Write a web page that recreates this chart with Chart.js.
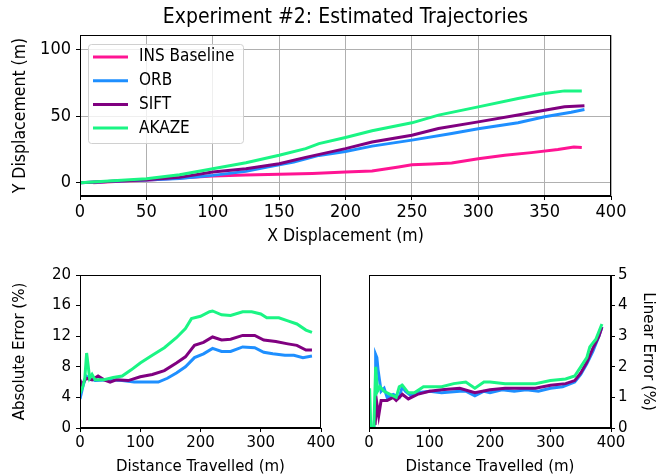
<!DOCTYPE html>
<html>
<head>
<meta charset="utf-8">
<script src="https://cdn.jsdelivr.net/npm/chart.js@4.4.0/dist/chart.umd.min.js"></script>
<style>
  body { margin: 0; background: #fff; }
  #wrap { position: relative; width: 657px; height: 476px; }
  canvas { position: absolute; }
</style>
</head>
<body>
<div id="wrap">
  <canvas id="traj" width="657" height="250" style="left:0;top:0;width:657px;height:250px"></canvas>
  <canvas id="absErr" width="340" height="221" style="left:0;top:255px;width:340px;height:221px"></canvas>
  <canvas id="linErr" width="317" height="221" style="left:340px;top:255px;width:317px;height:221px"></canvas>
</div>
<script>
// ---- trajectories (m) ----
const insX = [10, 30, 50, 75, 100, 125, 150, 175, 200, 220, 240, 250, 265, 280, 300, 320, 340, 360, 372, 378];
const insY = [0, 1, 1.8, 3.5, 5, 5.8, 6.3, 7, 8, 8.8, 11.8, 13.5, 14, 14.8, 18, 20.6, 22.6, 25, 26.8, 26.5];
const orbX = [0, 25, 50, 75, 100, 125, 142, 161, 180, 200, 220, 250, 280, 300, 330, 350, 370, 380];
const orbY = [0, 1, 2, 3.2, 5.5, 8.5, 12, 15.6, 20.5, 23.5, 27.5, 32, 37, 40.5, 45, 49.5, 53, 55];
const siftX = [0, 25, 50, 75, 100, 125, 150, 170, 200, 220, 250, 270, 300, 330, 350, 365, 380];
const siftY = [0, 1, 2.2, 4, 8, 10.5, 14.3, 19, 25.6, 30.6, 35.7, 40.7, 45.7, 50.8, 54.5, 57, 57.8];
const akazeX = [0, 25, 50, 75, 100, 125, 150, 170, 180, 200, 220, 250, 270, 300, 330, 350, 365, 378];
const akazeY = [0, 1.5, 3, 6, 10.5, 15, 20.6, 25.6, 29.4, 34, 39, 45, 50.8, 57, 63.3, 67, 69, 69];

// ---- absolute error (%) vs distance travelled (m) ----
const absOrbD = [0, 5, 10, 15, 25, 50, 70, 90, 110, 130, 145, 160, 175, 190, 205, 220, 235, 250, 270, 290, 305, 320, 340, 355, 370, 385];
const absOrb = [3.8, 5.5, 6.8, 6.5, 6.2, 6.3, 6.2, 6.0, 6.0, 6.0, 6.5, 7.2, 8.0, 9.2, 9.7, 10.4, 10.0, 10.0, 10.6, 10.5, 9.9, 9.7, 9.5, 9.5, 9.2, 9.4];
const absSiftD = [0, 3, 10, 20, 30, 40, 50, 60, 80, 100, 120, 140, 160, 175, 190, 205, 220, 235, 250, 270, 290, 305, 325, 345, 360, 375, 385];
const absSift = [6.3, 5.6, 6.5, 6.3, 6.8, 6.3, 6.0, 6.3, 6.2, 6.7, 7.0, 7.5, 8.5, 9.3, 10.8, 11.2, 11.9, 11.5, 11.6, 12.1, 12.1, 11.5, 11.3, 11.0, 10.8, 10.2, 10.2];
const absAkazeD = [0, 5, 8, 11, 13, 16, 20, 25, 40, 55, 70, 85, 100, 120, 140, 160, 175, 185, 200, 215, 220, 235, 250, 270, 285, 300, 310, 330, 345, 360, 375, 385];
const absAkaze = [4.5, 5.5, 6.5, 9.8, 8.5, 6.5, 7.0, 6.3, 6.3, 6.6, 6.8, 7.6, 8.5, 9.5, 10.5, 11.8, 13.0, 14.3, 14.6, 15.2, 15.3, 14.8, 14.7, 15.2, 15.2, 14.9, 14.4, 14.4, 14.0, 13.6, 12.8, 12.5];

// ---- linear error (%) vs distance travelled (m) ----
const linOrbD = [8, 10, 11, 13, 15, 20, 25, 30, 40, 50, 55, 60, 70, 80, 100, 120, 150, 160, 175, 190, 200, 220, 240, 260, 280, 300, 320, 340, 350, 360, 370, 380, 385];
const linOrb = [0, 0.5, 2.4, 2.3, 1.9, 1.2, 1.3, 1.0, 1.1, 1.0, 1.35, 1.2, 1.05, 1.15, 1.2, 1.15, 1.2, 1.2, 1.05, 1.2, 1.15, 1.25, 1.2, 1.25, 1.2, 1.3, 1.35, 1.5, 1.75, 2.1, 2.5, 3.0, 3.3];
const linSiftD = [10, 13, 16, 20, 30, 40, 45, 55, 65, 80, 100, 120, 150, 175, 200, 225, 250, 275, 300, 325, 340, 350, 360, 370, 380, 385];
const linSift = [0.1, 0.8, 0.4, 0.9, 0.9, 1.0, 0.9, 1.1, 0.95, 1.1, 1.2, 1.25, 1.3, 1.15, 1.25, 1.3, 1.3, 1.3, 1.4, 1.45, 1.55, 1.8, 2.15, 2.6, 3.0, 3.3];
const linAkazeD = [0, 1, 3, 8, 11, 14, 18, 25, 35, 45, 50, 55, 65, 75, 90, 100, 120, 140, 160, 175, 190, 200, 225, 250, 275, 300, 325, 340, 350, 360, 365, 375, 385];
const linAkaze = [0, 1.3, 0, 0, 2.0, 1.2, 1.35, 1.2, 1.1, 1.0, 1.35, 1.4, 1.15, 1.15, 1.35, 1.35, 1.35, 1.45, 1.5, 1.3, 1.5, 1.5, 1.45, 1.45, 1.45, 1.55, 1.6, 1.7, 2.0, 2.3, 2.65, 2.9, 3.4];

const seriesNames = ['INS Baseline', 'ORB', 'SIFT', 'AKAZE'];
const colors = {
    ins: '#ff1493',
    orb: '#1e8fff',
    sift: '#800080',
    akaze: '#1af584',
};

const FONT = 'DejaVu Sans, sans-serif';
// the top panel's lettering is narrow and tall in the reference
const NARROW = '"DejaVu Sans Condensed", "DejaVu Sans", sans-serif';
const zip = (xs, ys) => xs.map((x, i) => ({ x, y: ys[i] }));

const line = (label, xs, ys, color, order) => ({
    label,
    data: zip(xs, ys),
    borderColor: color,
    backgroundColor: color,
    borderWidth: 3,
    pointRadius: 0,
    fill: false,
    order,
});

// draws the matplotlib-style box round the plot area
const frame = {
    id: 'frame',
    afterDatasetsDraw(chart) {
        const { ctx, chartArea: a } = chart;
        ctx.save();
        ctx.strokeStyle = '#000';
        ctx.lineWidth = 1;
        ctx.strokeRect(a.left + 0.5, a.top + 0.5, a.right - a.left - 1, a.bottom - a.top - 1);
        ctx.restore();
    },
};

// title centred over the plot area, like matplotlib's axes title
const panelTitle = {
    id: 'panelTitle',
    afterDraw(chart, args, opts) {
        const { ctx, chartArea: a } = chart;
        ctx.save();
        ctx.font = opts.font;
        ctx.fillStyle = '#000';
        ctx.textAlign = 'center';
        ctx.textBaseline = 'middle';
        ctx.fillText(opts.text, (a.left + a.right) / 2, opts.y);
        ctx.restore();
    },
};

// legend drawn inside the top-left corner of the trajectory plot
const innerLegend = {
    id: 'innerLegend',
    afterDraw(chart) {
        const { ctx, chartArea: a } = chart;
        const x = a.left + 8, y = a.top + 9, w = 155, h = 99;
        ctx.save();
        ctx.fillStyle = 'rgba(255,255,255,0.8)';
        ctx.strokeStyle = '#d0d0d0';
        ctx.lineWidth = 1;
        ctx.beginPath();
        ctx.roundRect(x + 0.5, y + 0.5, w, h, 3);
        ctx.fill();
        ctx.stroke();
        const cols = [colors.ins, colors.orb, colors.sift, colors.akaze];
        ctx.font = 'normal condensed 17px ' + NARROW;
        ctx.textBaseline = 'middle';
        seriesNames.forEach((name, i) => {
            const ly = y + 13 + i * 23.7;
            ctx.strokeStyle = cols[i];
            ctx.lineWidth = 3;
            ctx.beginPath();
            ctx.moveTo(x + 5, ly);
            ctx.lineTo(x + 40, ly);
            ctx.stroke();
            ctx.fillStyle = '#000';
            ctx.fillText(name, x + 51, ly);
        });
        ctx.restore();
    },
};

const narrowTick = { family: NARROW, size: 18, weight: 'normal condensed' };
const narrowLabel = { family: NARROW, size: 17.5, weight: 'normal condensed' };
const tickFont = { family: FONT, size: 15 };
const titleFont = { family: FONT, size: 15 };

function fixSize(size) {
    return function (scale) {
        if (scale.isHorizontal()) scale.height = size;
        else scale.width = size;
    };
}

Chart.defaults.font.family = FONT;
Chart.defaults.color = '#000';
Chart.defaults.animation = false;

new Chart(document.getElementById('traj'), {
    type: 'line',
    data: {
        datasets: [
            line(seriesNames[0], insX, insY, colors.ins, 4),
            line(seriesNames[1], orbX, orbY, colors.orb, 3),
            line(seriesNames[2], siftX, siftY, colors.sift, 2),
            line(seriesNames[3], akazeX, akazeY, colors.akaze, 1),
        ],
    },
    options: {
        responsive: false,
        layout: { padding: { left: 0, right: 46, top: 35, bottom: 0 } },
        plugins: {
            legend: { display: false },
            tooltip: { enabled: false },
            panelTitle: {
                text: 'Experiment #2: Estimated Trajectories',
                font: 'normal condensed 21px ' + NARROW,
                y: 18,
            },
        },
        scales: {
            x: {
                type: 'linear',
                min: 0,
                max: 400,
                afterFit: fixSize(54),
                ticks: { stepSize: 50, font: narrowTick, padding: 2, maxRotation: 0 },
                grid: { color: '#b0b0b0', tickColor: '#000', tickLength: 4 },
                border: { color: '#000', width: 1 },
                title: { display: true, text: 'X Displacement (m)', font: narrowLabel, padding: { top: 0, bottom: 3 } },
            },
            y: {
                type: 'linear',
                min: -10,
                max: 111,
                afterFit: fixSize(80),
                afterBuildTicks(scale) {
                    scale.ticks = [0, 50, 100].map(value => ({ value }));
                },
                ticks: { font: narrowTick, padding: 5 },
                grid: { color: '#b0b0b0', tickColor: '#000', tickLength: 4 },
                border: { color: '#000', width: 1 },
                title: { display: true, text: 'Y Displacement (m)', font: narrowLabel, padding: { top: 10, bottom: 0 } },
            },
        },
    },
    plugins: [frame, innerLegend, panelTitle],
});

function errorChart(canvasId, sets, yMax, yStep, yLabel, side, padding) {
    return new Chart(document.getElementById(canvasId), {
        type: 'line',
        data: { datasets: sets },
        options: {
            responsive: false,
            layout: { padding },
            plugins: { legend: { display: false }, tooltip: { enabled: false } },
            scales: {
                x: {
                    type: 'linear',
                    min: 0,
                    max: 400,
                    afterFit: fixSize(48),
                    ticks: { stepSize: 100, font: tickFont, padding: 2, maxRotation: 0 },
                    grid: { drawOnChartArea: false, tickColor: '#000', tickLength: 4 },
                    border: { color: '#000', width: 1 },
                    title: { display: true, text: 'Distance Travelled (m)', font: titleFont, padding: { top: 0, bottom: 0 } },
                },
                y: {
                    type: 'linear',
                    position: side,
                    min: 0,
                    max: yMax,
                    afterFit: fixSize(side === 'left' ? 80 : 46),
                    ticks: { stepSize: yStep, font: tickFont, padding: side === 'left' ? 5 : 3 },
                    grid: { drawOnChartArea: false, tickColor: '#000', tickLength: 4 },
                    border: { color: '#000', width: 1 },
                    title: { display: true, text: yLabel, font: titleFont, padding: { top: side === 'left' ? 11 : 0, bottom: 0 } },
                },
            },
        },
        plugins: [frame],
    });
}

errorChart('absErr', [
    line(seriesNames[1], absOrbD, absOrb, colors.orb, 3),
    line(seriesNames[2], absSiftD, absSift, colors.sift, 2),
    line(seriesNames[3], absAkazeD, absAkaze, colors.akaze, 1),
], 20, 4, 'Absolute Error (%)', 'left', { left: 0, right: 19, top: 20, bottom: 0 });

errorChart('linErr', [
    line(seriesNames[1], linOrbD, linOrb, colors.orb, 3),
    line(seriesNames[2], linSiftD, linSift, colors.sift, 2),
    line(seriesNames[3], linAkazeD, linAkaze, colors.akaze, 1),
], 5, 1, 'Linear Error (%)', 'right', { left: 29, right: 0, top: 20, bottom: 0 });
</script>
</body>
</html>
